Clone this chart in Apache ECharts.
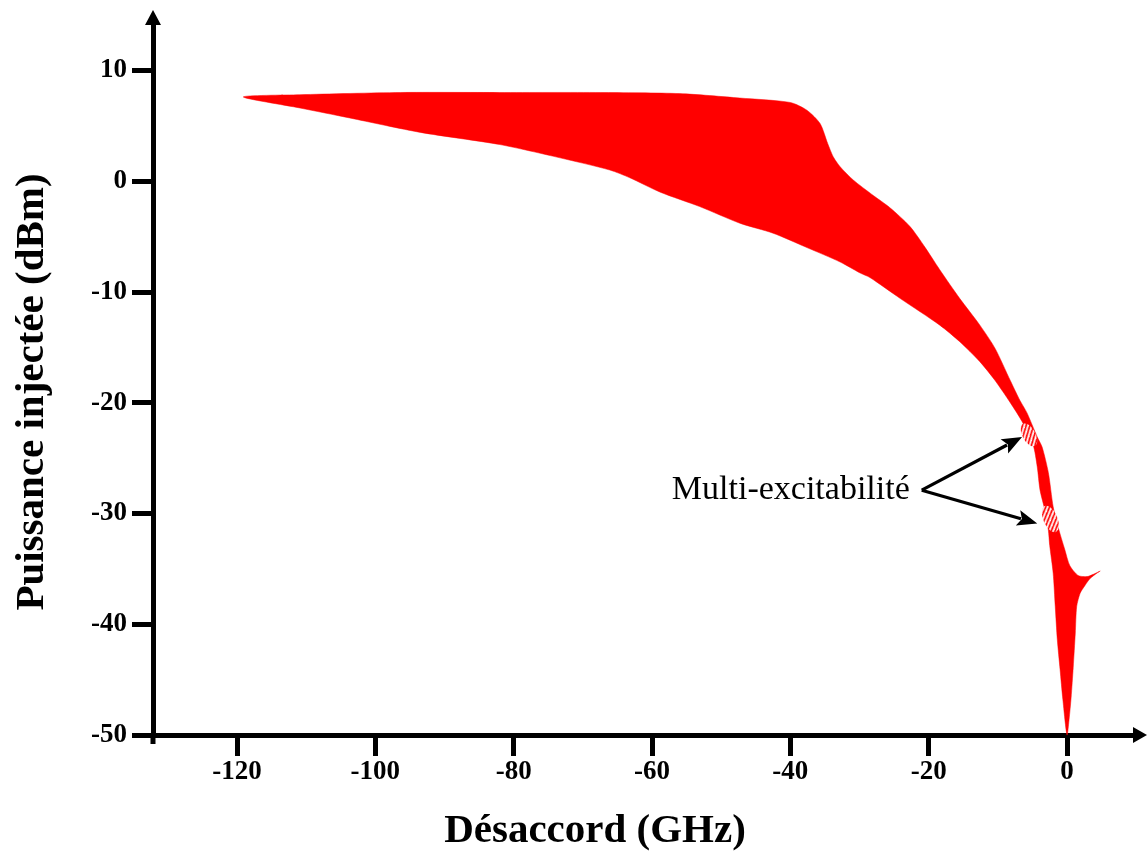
<!DOCTYPE html>
<html><head><meta charset="utf-8">
<script src="https://cdn.jsdelivr.net/npm/echarts@6/dist/echarts.min.js"></script>
<style>html,body{margin:0;padding:0;background:#fff}#c{width:1147px;height:852px}</style>
</head><body><div id="c"></div>
<script>
// ---- data (GHz, dBm) ----
const xTicks = [-120, -100, -80, -60, -40, -20, 0];
const yTicks = [-50, -40, -30, -20, -10, 0, 10];
// upper / right boundary of the red region, from the left tip to the bottom tip
const upperEdge = [
  [-119.1, 7.6], [-110.9, 7.8], [-96.4, 8.0], [-82.0, 8.0], [-67.5, 8.0], [-56.0, 7.9],
  [-47.3, 7.5], [-40.0, 7.1], [-37.6, 6.4], [-35.7, 5.2], [-34.6, 3.4], [-33.8, 2.2],
  [-32.8, 1.3], [-30.9, 0.1], [-28.0, -1.3], [-25.6, -2.4], [-22.7, -4.1], [-20.5, -6.0],
  [-18.4, -8.0], [-15.5, -10.6], [-12.6, -13.0], [-10.4, -15.1], [-8.2, -18.0], [-6.8, -19.8],
  [-5.8, -20.9], [-4.3, -23.1], [-3.6, -24.0], [-2.7, -26.3], [-2.0, -29.4], [-1.3, -31.2],
  [-0.3, -33.3], [0.4, -34.7], [1.6, -35.6], [2.9, -35.7], [3.8, -35.5], [4.8, -35.2],
  [4.3, -35.4], [3.3, -35.9], [2.6, -36.5], [1.9, -37.2], [1.4, -38.4], [1.2, -40.8],
  [0.9, -43.9], [0.6, -46.6], [0.3, -48.6], [0.0, -50.0]
];
// lower / left boundary, from the bottom tip back to the left tip
const lowerEdge = [
  [-0.6, -46.8], [-1.0, -44.1], [-1.4, -41.4], [-1.7, -38.4], [-2.0, -35.4], [-2.5, -32.9],
  [-2.7, -31.5], [-3.2, -29.7], [-3.9, -27.9], [-4.3, -25.8], [-4.9, -23.8], [-6.5, -21.7],
  [-8.2, -20.0], [-10.4, -18.0], [-12.6, -16.3], [-15.5, -14.5], [-18.4, -13.0], [-24.1, -10.6],
  [-28.5, -8.7], [-29.9, -8.3], [-32.8, -7.3], [-37.6, -6.0], [-42.5, -4.7], [-47.3, -3.8],
  [-53.1, -2.3], [-58.8, -1.0], [-63.2, 0.3], [-66.1, 1.0], [-73.3, 2.1], [-82.0, 3.3],
  [-93.5, 4.4], [-103.7, 5.7], [-110.9, 6.6]
];
// hatched multi-excitability zones (centre)
const hatchCenters = [[-5.5, -22.9], [-2.4, -30.5]];
// annotation arrows
const arrowStart = [-21.0, -27.9];
const arrowTips = [[-6.5, -23.1], [-4.3, -30.9]];
const annotation = 'Multi-excitabilité';
const xTitle = 'Désaccord (GHz)';
const yTitle = 'Puissance injectée (dBm)';

// ---- styling ----
const SERIF = '"Liberation Serif", "Times New Roman", serif';
const RED = '#ff0000';

function stripePattern() {
  const c = document.createElement('canvas');
  c.width = 5; c.height = 5;
  const g = c.getContext('2d');
  g.fillStyle = RED; g.fillRect(0, 0, 5, 5);
  g.strokeStyle = '#ffffff'; g.lineWidth = 1.8;
  [[0, 5, 5, 0], [-2, 2, 2, -2], [3, 7, 7, 3]].forEach(l => {
    g.beginPath(); g.moveTo(l[0], l[1]); g.lineTo(l[2], l[3]); g.stroke();
  });
  return c;
}
const pattern = stripePattern();

const chart = echarts.init(document.getElementById('c'), null, {renderer: 'canvas'});
const option = {
  animation: false,
  backgroundColor: '#fff',
  grid: {left: 153, right: 7, top: 17.5, bottom: 117, containLabel: false, outerBoundsMode: 'none'},
  xAxis: {
    type: 'value', min: -132.145, max: 10.554, position: 'bottom',
    axisLine: {onZero: false, symbol: ['none', 'triangle'], symbolSize: [16, 14],
      lineStyle: {color: '#000', width: 5}},
    axisTick: {customValues: xTicks, length: 21, lineStyle: {color: '#000', width: 5}},
    axisLabel: {customValues: xTicks, margin: 24, color: '#000', fontSize: 27,
      fontWeight: 'bold', fontFamily: SERIF},
    splitLine: {show: false}
  },
  yAxis: {
    type: 'value', min: -50, max: 14.77,
    axisLine: {onZero: false, symbol: ['none', 'triangle'], symbolSize: [16, 15],
      lineStyle: {color: '#000', width: 5}},
    axisTick: {customValues: yTicks, length: 21, lineStyle: {color: '#000', width: 5}},
    axisLabel: {customValues: yTicks, margin: 26, color: '#000', fontSize: 27,
      fontWeight: 'bold', fontFamily: SERIF},
    splitLine: {show: false}
  },
  graphic: [
    {type: 'text', x: 595, y: 831, style: {text: xTitle, align: 'center', verticalAlign: 'middle',
      fill: '#000', font: 'bold 41px ' + SERIF}},
    {type: 'text', x: 32, y: 392, rotation: Math.PI / 2, style: {text: yTitle, align: 'center',
      verticalAlign: 'middle', fill: '#000', font: 'bold 41px ' + SERIF}},
    {type: 'line', shape: {x1: 153, y1: 735, x2: 153, y2: 744}, style: {stroke: '#000', lineWidth: 5}}
  ],
  series: [
    {
      type: 'custom', clip: false, z: 1,
      data: [[0, -50]],
      renderItem: function (params, api) {
        const pts = upperEdge.concat(lowerEdge).map(p => api.coord(p));
        return {type: 'polygon', shape: {points: pts, smooth: 0.25},
          style: {fill: RED, stroke: RED, lineWidth: 0.5}};
      }
    },
    {
      type: 'custom', clip: false, z: 2,
      data: hatchCenters,
      renderItem: function (params, api) {
        const c = api.coord([api.value(0), api.value(1)]);
        const big = params.dataIndex === 1;
        return {type: 'ellipse', x: c[0], y: c[1], rotation: big ? 0.4 : 0.5,
          shape: {cx: 0, cy: 0, rx: big ? 7 : 6.5, ry: big ? 14 : 12.5},
          style: {fill: {image: pattern, repeat: 'repeat'}}};
      }
    },
    {
      type: 'custom', clip: false, z: 3,
      data: arrowTips,
      renderItem: function (params, api) {
        const s = api.coord(arrowStart);
        const t = api.coord([api.value(0), api.value(1)]);
        const dx = t[0] - s[0], dy = t[1] - s[1];
        const len = Math.sqrt(dx * dx + dy * dy);
        const ux = dx / len, uy = dy / len, nx = -uy, ny = ux;
        const L = 20, W = 8;
        const head = [
          [t[0], t[1]],
          [t[0] - L * ux + W * nx, t[1] - L * uy + W * ny],
          [t[0] - 0.8 * L * ux, t[1] - 0.8 * L * uy],
          [t[0] - L * ux - W * nx, t[1] - L * uy - W * ny]
        ];
        const children = [
          {type: 'line', shape: {x1: s[0], y1: s[1], x2: t[0] - 0.85 * L * ux, y2: t[1] - 0.85 * L * uy},
            style: {stroke: '#000', lineWidth: 3.2}},
          {type: 'polygon', shape: {points: head}, style: {fill: '#000'}}
        ];
        if (params.dataIndex === 0) {
          children.push({type: 'text', x: s[0] - 12, y: s[1],
            style: {text: annotation, align: 'right', verticalAlign: 'middle', fill: '#000',
              font: '34px ' + SERIF}});
        }
        return {type: 'group', children: children};
      }
    }
  ]
};
chart.setOption(option);
</script>
</body></html>
